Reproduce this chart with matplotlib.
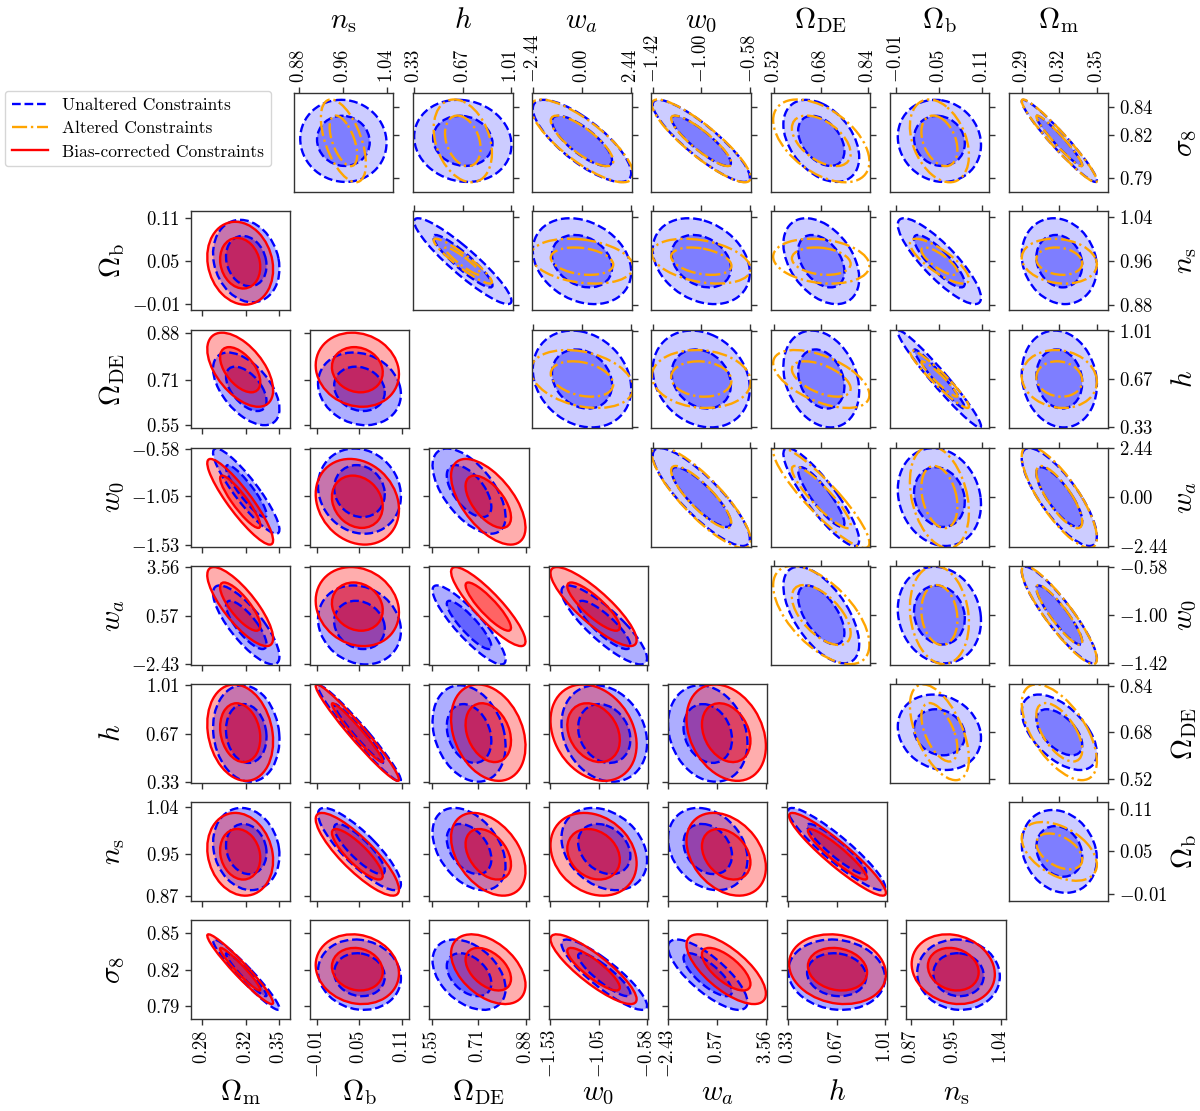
import numpy as np
import matplotlib
matplotlib.use('Agg')
import matplotlib.pyplot as plt
from matplotlib.patches import Ellipse
from matplotlib.lines import Line2D

plt.rcParams['mathtext.fontset'] = 'cm'
plt.rcParams['font.family'] = ['cmr10', 'DejaVu Serif']
plt.rcParams['axes.unicode_minus'] = False

# parameter order: Om, Ob, ODE, w0, wa, h, ns, s8
labels = [r'$\Omega_{\rm m}$', r'$\Omega_{\rm b}$', r'$\Omega_{\rm DE}$', r'$w_0$',
          r'$w_a$', r'$h$', r'$n_{\rm s}$', r'$\sigma_8$']

mean_unaltered = [0.320, 0.050, 0.680, -1.000, 0.000, 0.670, 0.960, 0.816]
sigma_unaltered = [0.0121, 0.0234, 0.052, 0.169, 0.98, 0.137, 0.0316, 0.0116]

mean_altered = [0.320, 0.050, 0.680, -1.000, 0.000, 0.670, 0.960, 0.816]
sigma_altered = [0.0121, 0.0166, 0.066, 0.172, 1.02, 0.082, 0.0165, 0.0117]

mean_corrected = [0.3145, 0.047, 0.748, -1.105, 1.13, 0.676, 0.950, 0.8205]
sigma_corrected = [0.0120, 0.0235, 0.053, 0.170, 0.98, 0.137, 0.0318, 0.0115]

# correlations, row k holds rho(k, 0..k-1)
corr_unaltered = [
    [],
    [-0.18],
    [-0.55, -0.15],
    [-0.90, -0.12, -0.60],
    [-0.80, -0.15, -0.88, -0.85],
    [-0.12, -0.97, -0.25, -0.20, -0.20],
    [-0.15, -0.85, -0.40, -0.27, -0.25, -0.92],
    [-0.96, -0.10, -0.40, -0.88, -0.78, -0.10, -0.05],
]
corr_altered = [
    [],
    [-0.45],
    [-0.60, -0.55],
    [-0.90, -0.15, -0.60],
    [-0.80, -0.30, -0.90, -0.85],
    [-0.10, -0.95, -0.55, -0.10, -0.30],
    [-0.15, -0.80, -0.20, -0.34, -0.25, -0.93],
    [-0.96, -0.35, -0.50, -0.88, -0.80, -0.30, -0.55],
]
corr_corrected = [
    [],
    [-0.15],
    [-0.55, -0.12],
    [-0.90, -0.18, -0.60],
    [-0.80, -0.15, -0.88, -0.85],
    [-0.18, -0.97, -0.28, -0.25, -0.28],
    [-0.15, -0.85, -0.40, -0.22, -0.32, -0.93],
    [-0.96, -0.12, -0.45, -0.86, -0.70, -0.15, -0.15],
]

# tick values of the lower (corrected vs unaltered) triangle
ticks_lower = [[0.28, 0.32, 0.35], [-0.01, 0.05, 0.11], [0.55, 0.71, 0.88],
               [-1.53, -1.05, -0.58], [-2.43, 0.57, 3.56], [0.33, 0.67, 1.01],
               [0.87, 0.95, 1.04], [0.79, 0.82, 0.85]]
lims_lower = [(0.2696, 0.3597), (-0.0195, 0.1200), (0.539, 0.891), (-1.547, -0.571),
              (-2.45, 3.65), (0.322, 1.021), (0.861, 1.050), (0.7797, 0.8608)]

# tick values of the upper (altered vs unaltered) triangle
ticks_upper = [[0.29, 0.32, 0.35], [-0.01, 0.05, 0.11], [0.52, 0.68, 0.84],
               [-1.42, -1.00, -0.58], [-2.44, 0.00, 2.44], [0.33, 0.67, 1.01],
               [0.88, 0.96, 1.04], [0.79, 0.82, 0.84]]
lims_upper = [(0.2796, 0.3592), (-0.0195, 0.1195), (0.507, 0.846), (-1.432, -0.571),
              (-2.465, 2.46), (0.322, 1.018), (0.870, 1.051), (0.7799, 0.8494)]

K1, K2 = np.sqrt(2.30), np.sqrt(6.17)
LW = 1.7


def rho(corr, a, b):
    if a == b:
        return 1.0
    if a < b:
        a, b = b, a
    return corr[a][b]


def ellipse(mean, sigma, corr, ix, iy, k, **kw):
    sx, sy = sigma[ix], sigma[iy]
    r = rho(corr, ix, iy)
    cov = np.array([[sx**2, r*sx*sy], [r*sx*sy, sy**2]])
    vals, vecs = np.linalg.eigh(cov)
    order = vals.argsort()[::-1]
    vals, vecs = vals[order], vecs[:, order]
    angle = np.degrees(np.arctan2(vecs[1, 0], vecs[0, 0]))
    return Ellipse((mean[ix], mean[iy]), 2*k*np.sqrt(vals[0]), 2*k*np.sqrt(vals[1]),
                   angle=angle, **kw)


def draw_fill(ax, mean, sigma, corr, ix, iy, color, a_out, a_in):
    ax.add_patch(ellipse(mean, sigma, corr, ix, iy, K2, facecolor=color,
                         edgecolor='none', alpha=a_out))
    ax.add_patch(ellipse(mean, sigma, corr, ix, iy, K1, facecolor=color,
                         edgecolor='none', alpha=a_in))


def draw_line(ax, mean, sigma, corr, ix, iy, color, ls):
    for k in (K2, K1):
        ax.add_patch(ellipse(mean, sigma, corr, ix, iy, k, fill=False,
                             edgecolor=color, linestyle=ls, lw=LW))


def fmt(v):
    return r'$%.2f$' % v


def style(ax):
    for s in ax.spines.values():
        s.set_linewidth(1.0)
        s.set_color('0.2')
    ax.tick_params(direction='out', length=4, width=1, color='0.2', labelsize=13.5)


W, H = 1200, 1111
fig = plt.figure(figsize=(12, 11.11), dpi=100)
row_top = [93.3 + 118.1 * i for i in range(8)]
cw, ch = 99.5, 99


def cell(left, top):
    return fig.add_axes([left / W, 1 - (top + ch) / H, cw / W, ch / H])


# lower triangle: unaltered vs bias-corrected
for i in range(1, 8):
    for j in range(i):
        ax = cell(190.6 + 119.3 * j, row_top[i])
        draw_fill(ax, mean_unaltered, sigma_unaltered, corr_unaltered, j, i, 'blue', 0.32, 0.42)
        draw_fill(ax, mean_corrected, sigma_corrected, corr_corrected, j, i, 'red', 0.32, 0.42)
        draw_line(ax, mean_unaltered, sigma_unaltered, corr_unaltered, j, i, 'blue', '--')
        draw_line(ax, mean_corrected, sigma_corrected, corr_corrected, j, i, 'red', '-')
        ax.set_xlim(lims_lower[j])
        ax.set_ylim(lims_lower[i])
        ax.set_xticks(ticks_lower[j])
        ax.set_yticks(ticks_lower[i])
        style(ax)
        if i == 7:
            ax.set_xticklabels([fmt(v) for v in ticks_lower[j]], rotation=90)
            ax.set_xlabel(labels[j], fontsize=21)
            ax.xaxis.set_label_coords(0.5, -0.815)
            ax.xaxis.label.set_va('baseline')
        else:
            ax.set_xticklabels([])
        if j == 0:
            ax.set_yticklabels([fmt(v) for v in ticks_lower[i]])
            ax.set_ylabel(labels[i], fontsize=21)
            ax.yaxis.set_label_coords(-0.71, 0.5)
            ax.yaxis.label.set_va('baseline')
        else:
            ax.set_yticklabels([])

# upper triangle: unaltered vs altered, parameters in reversed order
rev = [7, 6, 5, 4, 3, 2, 1, 0]
for i in range(7):
    for j in range(i + 1, 8):
        px, py = rev[j], rev[i]
        ax = cell(293.9 + 119.15 * (j - 1), row_top[i])
        draw_fill(ax, mean_unaltered, sigma_unaltered, corr_unaltered, px, py, 'blue', 0.2, 0.38)
        draw_line(ax, mean_unaltered, sigma_unaltered, corr_unaltered, px, py, 'blue', '--')
        draw_line(ax, mean_altered, sigma_altered, corr_altered, px, py, 'orange', '-.')
        ax.set_xlim(lims_upper[px])
        ax.set_ylim(lims_upper[py])
        ax.set_xticks(ticks_upper[px])
        ax.set_yticks(ticks_upper[py])
        ax.xaxis.tick_top()
        ax.yaxis.tick_right()
        style(ax)
        if i == 0:
            ax.set_xticklabels([fmt(v) for v in ticks_upper[px]], rotation=90)
            ax.xaxis.set_label_position('top')
            ax.set_xlabel(labels[px], fontsize=21)
            ax.xaxis.set_label_coords(0.5, 1.66)
            ax.xaxis.label.set_va('baseline')
        else:
            ax.set_xticklabels([])
        if j == 7:
            ax.set_yticklabels([fmt(v) for v in ticks_upper[py]])
            ax.yaxis.set_label_position('right')
            ax.set_ylabel(labels[py], fontsize=21)
            ax.yaxis.set_label_coords(1.84, 0.5)
            ax.yaxis.label.set_va('baseline')
        else:
            ax.set_yticklabels([])

handles = [Line2D([], [], color='blue', ls='--', lw=LW, label='Unaltered Constraints'),
           Line2D([], [], color='orange', ls='-.', lw=LW, label='Altered Constraints'),
           Line2D([], [], color='red', ls='-', lw=LW, label='Bias-corrected Constraints')]
fig.legend(handles=handles, loc='upper left', bbox_to_anchor=(5 / W, 1 - 91 / H),
           prop={'family': 'cmr10', 'size': 12.5}, handlelength=2.1, handletextpad=0.8,
           labelspacing=0.45, edgecolor='0.8', fancybox=True, borderaxespad=0)

fig.savefig('out.png', dpi=100)
